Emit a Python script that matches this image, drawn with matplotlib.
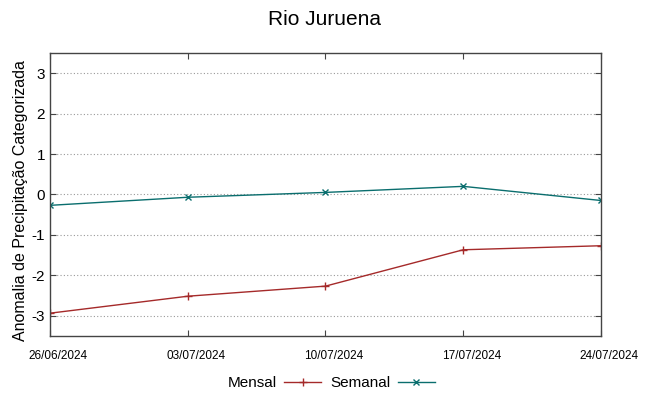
import numpy as np
import matplotlib.pyplot as plt
import matplotlib.transforms as mtransforms

plt.rcParams['font.family'] = ['Liberation Sans', 'DejaVu Sans']
plt.rcParams['axes.unicode_minus'] = False

datas = ['26/06/2024', '03/07/2024', '10/07/2024', '17/07/2024', '24/07/2024']
mensal = [-2.94, -2.52, -2.27, -1.37, -1.27]
semanal = [-0.27, -0.07, 0.05, 0.20, -0.15]

x = np.arange(len(datas))

fig = plt.figure(figsize=(6.49, 3.96), dpi=100)
ax = fig.add_axes([0.077, 0.152, 0.849, 0.714])

ax.plot(x, mensal, color='#a52a2a', lw=1.0, marker='+', ms=6, mew=1.0, label='Mensal')
ax.plot(x, semanal, color='#0a6e6e', lw=1.0, marker='x', ms=4.5, mew=1.0, label='Semanal')

ax.set_xlim(0, 4)
ax.set_ylim(-3.5, 3.5)
ax.set_yticks(range(-3, 4))
ax.set_xticks(x)
ax.set_xticklabels(datas, fontsize=8.5)
ax.tick_params(axis='y', labelsize=11)
ax.tick_params(direction='in', top=True, right=True, length=4, color='#444444')
ax.tick_params(axis='x', pad=10)
# gnuplot puts the date labels a bit to the right of the tick
shift = mtransforms.ScaledTranslation(8 / 100, 0, fig.dpi_scale_trans)
for lbl in ax.get_xticklabels():
    lbl.set_transform(lbl.get_transform() + shift)
ax.grid(axis='y', ls=(0, (1, 2)), color='#999999', lw=0.8)
for s in ax.spines.values():
    s.set_linewidth(1.0)
    s.set_color('#444444')

ax.set_ylabel('Anomalia de Precipitação Categorizada', fontsize=11.5)
ax.yaxis.set_label_coords(-0.04, 0.48)
fig.suptitle('Rio Juruena', fontsize=15, y=0.975)

fig.legend(loc='lower center', ncol=2, frameon=False, fontsize=11,
           bbox_to_anchor=(0.51, -0.02), markerfirst=False, handlelength=2.4,
           columnspacing=0.6, handletextpad=0.5)

fig.savefig('out.png', dpi=100)
